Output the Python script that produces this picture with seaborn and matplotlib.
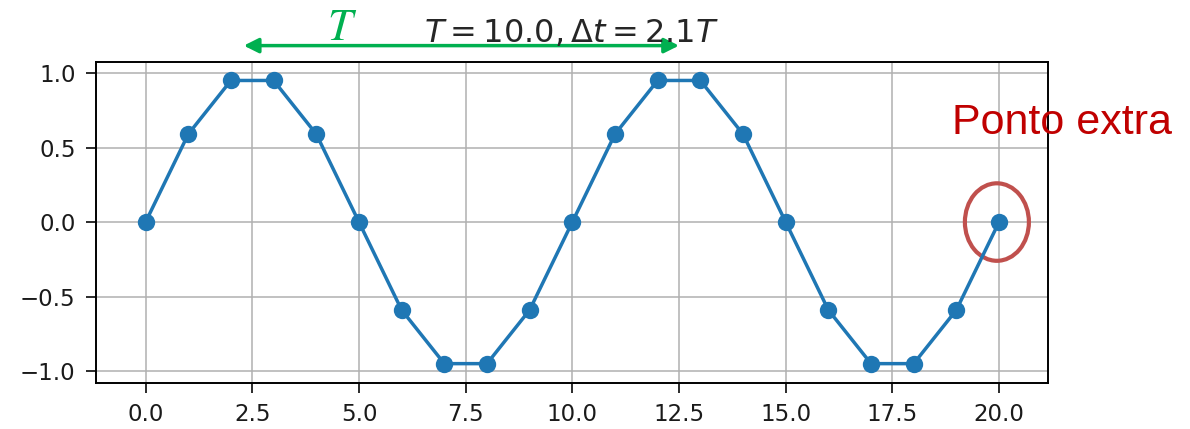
import numpy as np
import pandas as pd
import matplotlib
matplotlib.use("Agg")
import matplotlib.pyplot as plt
from matplotlib.patches import Ellipse
import seaborn as sns

# data: 21 samples, t = 0..20
t = [0, 1, 2, 3, 4, 5, 6, 7, 8, 9, 10, 11, 12, 13, 14, 15, 16, 17, 18, 19, 20]
y = [0.0, 0.59, 0.95, 0.95, 0.59, 0.0, -0.59, -0.95, -0.95, -0.59,
     0.0, 0.59, 0.95, 0.95, 0.59, 0.0, -0.59, -0.95, -0.95, -0.59, 0.0]
title_txt = r"$T = 10.0, \Delta t = 2.1T$"
extra_label = "Ponto extra"

df = pd.DataFrame({"t": t, "y": y})

sns.set_style("ticks")
plt.rcParams["font.family"] = ["DejaVu Sans"]

fig = plt.figure(figsize=(11.9, 4.29), dpi=100)
ax = fig.add_axes([0.0804, 0.1065, 0.8000, 0.7497])

sns.lineplot(data=df, x="t", y="y", ax=ax, color="#1f77b4", linewidth=2.5,
             marker="o", markersize=12.5, markeredgewidth=0)

ax.grid(True, color="#b0b0b0", linewidth=1.1)
ax.set_axisbelow(True)
ax.set_xlim(-1.17, 21.14)
ax.set_ylim(-1.082, 1.076)
ax.set_xticks([0, 2.5, 5, 7.5, 10, 12.5, 15, 17.5, 20])
ax.set_xticklabels(["0.0", "2.5", "5.0", "7.5", "10.0", "12.5", "15.0", "17.5", "20.0"])
ax.set_yticks([-1, -0.5, 0, 0.5, 1])
ax.set_yticklabels(["\u22121.0", "\u22120.5", "0.0", "0.5", "1.0"])
ax.tick_params(labelsize=16.5, length=7.5, width=1.3, colors="#1a1a1a", pad=7)
ax.set_xlabel("")
ax.set_ylabel("")
for s in ax.spines.values():
    s.set_visible(True)
    s.set_linewidth(1.4)
    s.set_color("black")

ax.set_title(title_txt, fontsize=23, pad=14)

# green period arrow above the axes
ax.annotate("", xy=(2.3, 1.05), xycoords=("data", "axes fraction"),
            xytext=(12.5, 1.05), textcoords=("data", "axes fraction"),
            arrowprops=dict(arrowstyle="<|-|>", color="#00b050", lw=2.5,
                            mutation_scale=22, shrinkA=0, shrinkB=0),
            annotation_clip=False)
ax.text(4.6, 1.105, "$T$", transform=ax.get_xaxis_transform(), color="#00b050",
        fontsize=32, math_fontfamily="stix", ha="center", va="center")

# extra point
ax.add_patch(Ellipse((19.95, 0.0), 1.5, 0.52, fill=False, edgecolor="#c0504d",
                     linewidth=3, clip_on=False))
fig.text(0.985, 0.713, extra_label, color="#c00000", fontsize=31,
         family="Liberation Sans", ha="right", va="center")

fig.savefig("out.png", dpi=100)
